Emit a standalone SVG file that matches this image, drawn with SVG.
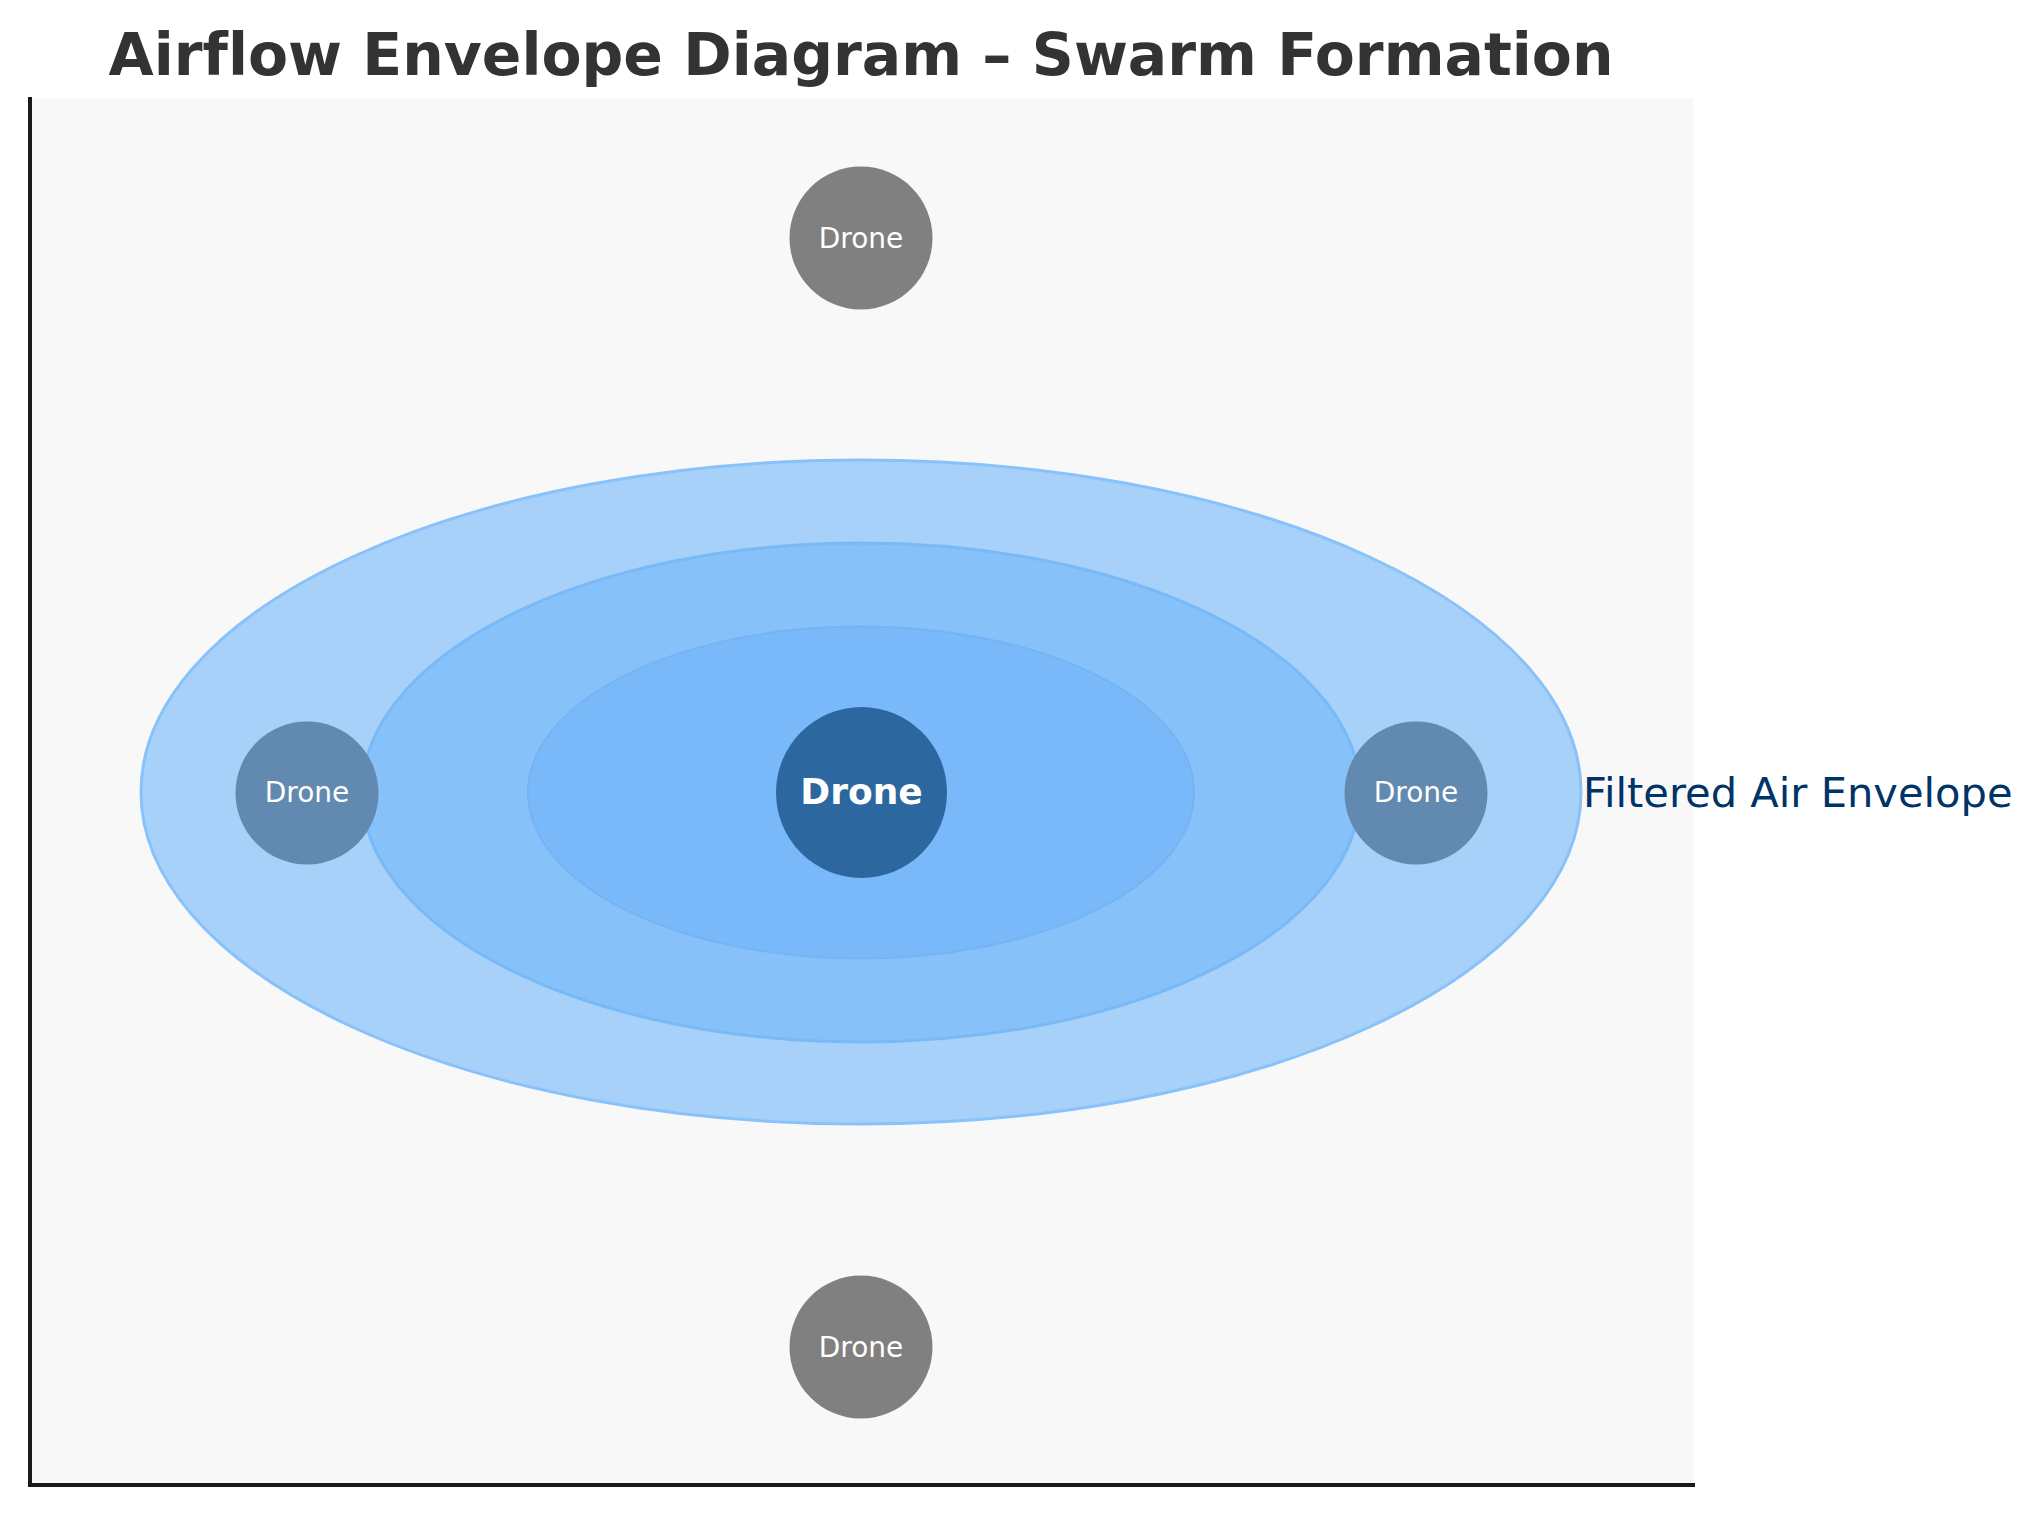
<svg xmlns="http://www.w3.org/2000/svg" width="2042" height="1516" viewBox="0 0 2042 1516">
<style>
text{font-variant-ligatures:none}
.title{font-family:"DejaVu Sans",sans-serif;font-weight:bold;font-size:58.4px;fill:#333333}
.lbl{font-family:"DejaVu Sans",sans-serif;font-size:28px;fill:#ffffff}
.main{font-family:"DejaVu Sans",sans-serif;font-weight:bold;font-size:36px;fill:#ffffff}
.env{font-family:"DejaVu Sans",sans-serif;font-size:41.6px;fill:#003366}
</style>
<rect width="2042" height="1516" fill="#ffffff"/>
<rect x="30" y="98" width="1663" height="1387" fill="#f8f8f8"/>
<text class="title" x="861" y="75" text-anchor="middle">Airflow Envelope Diagram – Swarm Formation</text>
<g id="envelope">
<ellipse cx="861" cy="792" rx="720" ry="332" fill="#a8d1f9" stroke="#88c2fa" stroke-width="3"/>
<ellipse cx="861" cy="792.5" rx="499" ry="249.5" fill="#86c1f9" stroke="#7ab9f7" stroke-width="3"/>
<ellipse cx="861" cy="792.5" rx="333" ry="166" fill="#79b9f9" stroke="#74b4f5" stroke-width="2"/>
<text class="env" x="1583" y="807">Filtered Air Envelope</text>
</g>
<g id="drone-top"><circle cx="861" cy="238" r="71.5" fill="#808080"/><text class="lbl" x="861" y="248" text-anchor="middle">Drone</text></g>
<g id="drone-bottom"><circle cx="861" cy="1347" r="71.5" fill="#808080"/><text class="lbl" x="861" y="1357" text-anchor="middle">Drone</text></g>
<g id="drone-left"><circle cx="307" cy="793" r="71.5" fill="#6289b0"/><text class="lbl" x="307" y="802" text-anchor="middle">Drone</text></g>
<g id="drone-right"><circle cx="1416" cy="793" r="71.5" fill="#6289b0"/><text class="lbl" x="1416" y="802" text-anchor="middle">Drone</text></g>
<g id="drone-center"><circle cx="861.5" cy="792.5" r="85.5" fill="#2c67a0"/><text class="main" x="861.5" y="804" text-anchor="middle">Drone</text></g>
<g id="connectors"></g>
<g id="axes" stroke="#1a1a1a" stroke-width="4" fill="none">
<line x1="30" y1="97" x2="30" y2="1487"/>
<line x1="28" y1="1485" x2="1695" y2="1485"/>
</g>
</svg>
